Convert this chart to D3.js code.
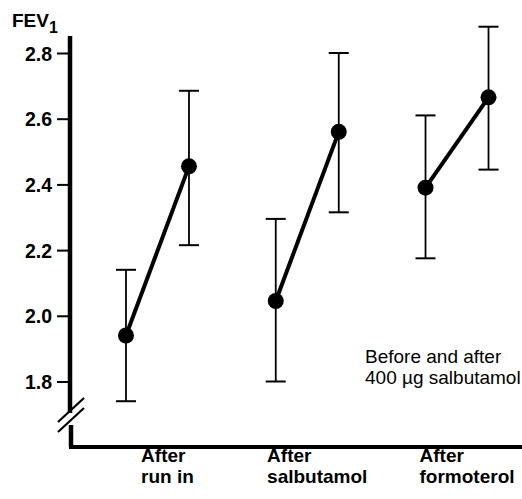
<!DOCTYPE html>
<html>
<head>
<meta charset="utf-8">
<script src="https://cdn.jsdelivr.net/npm/d3@7"></script>
<style>
  body { margin: 0; background: #fff; }
  text { font-family: "Liberation Sans", Arial, sans-serif; fill: #000; }
</style>
</head>
<body>
<div id="chart"></div>
<script>
// data
var groups = ["After run in", "After salbutamol", "After formoterol"]
var groupLines = [["After", "run in"], ["After", "salbutamol"], ["After", "formoterol"]]
var phases = ["before", "after"]
var means = [[1.94, 2.455], [2.045, 2.56], [2.39, 2.665]]
var upper = [[2.14, 2.685], [2.295, 2.80], [2.61, 2.88]]
var lower = [[1.74, 2.215], [1.80, 2.315], [2.175, 2.445]]
var yTicks = [1.8, 2.0, 2.2, 2.4, 2.6, 2.8]

var width = 522, height = 499
var axisX = 70, axisBottom = 447, axisTop = 36

var svg = d3.select("#chart").append("svg")
    .attr("width", width)
    .attr("height", height)

var xGroup = d3.scaleBand()
    .domain(groups)
    .range([82.6, 531.9])
    .padding(0)

var xPhase = d3.scalePoint()
    .domain(phases)
    .range([-31.5, 31.5])

var y = d3.scaleLinear()
    .domain([1.8, 2.8])
    .range([381.5, 53])

function px(g, p) {
    return xGroup(groups[g]) + xGroup.bandwidth() / 2 + xPhase(phases[p])
}

// y axis ticks + labels
var yAxis = d3.axisLeft(y)
    .tickValues(yTicks)
    .tickSize(12)
    .tickPadding(5)
    .tickFormat(d3.format(".1f"))

var gy = svg.append("g")
    .attr("transform", "translate(" + (axisX - 1) + ",0)")
    .call(yAxis)
gy.select(".domain").remove()
gy.selectAll(".tick line").attr("stroke", "#000").attr("stroke-width", 2)
gy.selectAll(".tick text")
    .style("font-size", "19.5px")
    .style("font-weight", "bold")
    .attr("dy", "0.36em")

// axis line with break
svg.append("line")
    .attr("x1", axisX).attr("x2", axisX)
    .attr("y1", axisTop).attr("y2", 413)
    .attr("stroke", "#000").attr("stroke-width", 4.5)
svg.append("line")
    .attr("x1", axisX + 1).attr("x2", axisX + 1)
    .attr("y1", 425).attr("y2", axisBottom)
    .attr("stroke", "#000").attr("stroke-width", 4.5)
;[0, 10].forEach(function (o) {
    svg.append("line")
        .attr("x1", 58).attr("y1", 422 + o)
        .attr("x2", 84).attr("y2", 398 + o)
        .attr("stroke", "#000").attr("stroke-width", 2.2)
})
svg.append("line")
    .attr("x1", axisX - 1).attr("x2", width)
    .attr("y1", axisBottom).attr("y2", axisBottom)
    .attr("stroke", "#000").attr("stroke-width", 4)

// FEV1 label
var fev = svg.append("text")
    .attr("x", 12).attr("y", 27)
    .style("font-size", "19px")
    .style("font-weight", "bold")
fev.append("tspan").text("FEV")
fev.append("tspan").attr("dy", 6).style("font-size", "16px").text("1")

// error bars, lines, points
var capW = 10
groups.forEach(function (g, gi) {
    phases.forEach(function (p, pi) {
        var x = px(gi, pi)
        svg.append("line")
            .attr("x1", x).attr("x2", x)
            .attr("y1", y(upper[gi][pi])).attr("y2", y(lower[gi][pi]))
            .attr("stroke", "#000").attr("stroke-width", 1.8)
        ;[upper[gi][pi], lower[gi][pi]].forEach(function (v) {
            svg.append("line")
                .attr("x1", x - capW).attr("x2", x + capW)
                .attr("y1", y(v)).attr("y2", y(v))
                .attr("stroke", "#000").attr("stroke-width", 2)
        })
    })

    svg.append("path")
        .datum(means[gi])
        .attr("d", d3.line().x(function (d, i) { return px(gi, i) }).y(function (d) { return y(d) }))
        .attr("fill", "none")
        .attr("stroke", "#000")
        .attr("stroke-width", 4)

    svg.selectAll(null)
        .data(means[gi])
        .enter()
        .append("circle")
        .attr("cx", function (d, i) { return px(gi, i) })
        .attr("cy", function (d) { return y(d) })
        .attr("r", 8)
        .attr("fill", "#000")
})

// category labels (two lines, left aligned)
groupLines.forEach(function (lines, gi) {
    var t = svg.append("text")
        .style("font-size", "19px")
        .style("font-weight", "bold")
    lines.forEach(function (l, li) {
        t.append("tspan").attr("y", 462 + li * 21).text(l)
    })
    var w = d3.max(t.selectAll("tspan").nodes(), function (n) { return n.getComputedTextLength() })
    var left = xGroup(groups[gi]) + xGroup.bandwidth() / 2 - w / 2 + 10
    t.selectAll("tspan").attr("x", left)
})

// annotation
var note = svg.append("text")
    .style("font-size", "19px")
note.append("tspan").attr("x", 365).attr("y", 363).text("Before and after")
note.append("tspan").attr("x", 365).attr("y", 384).text("400 \u00b5g salbutamol")
</script>
</body>
</html>
